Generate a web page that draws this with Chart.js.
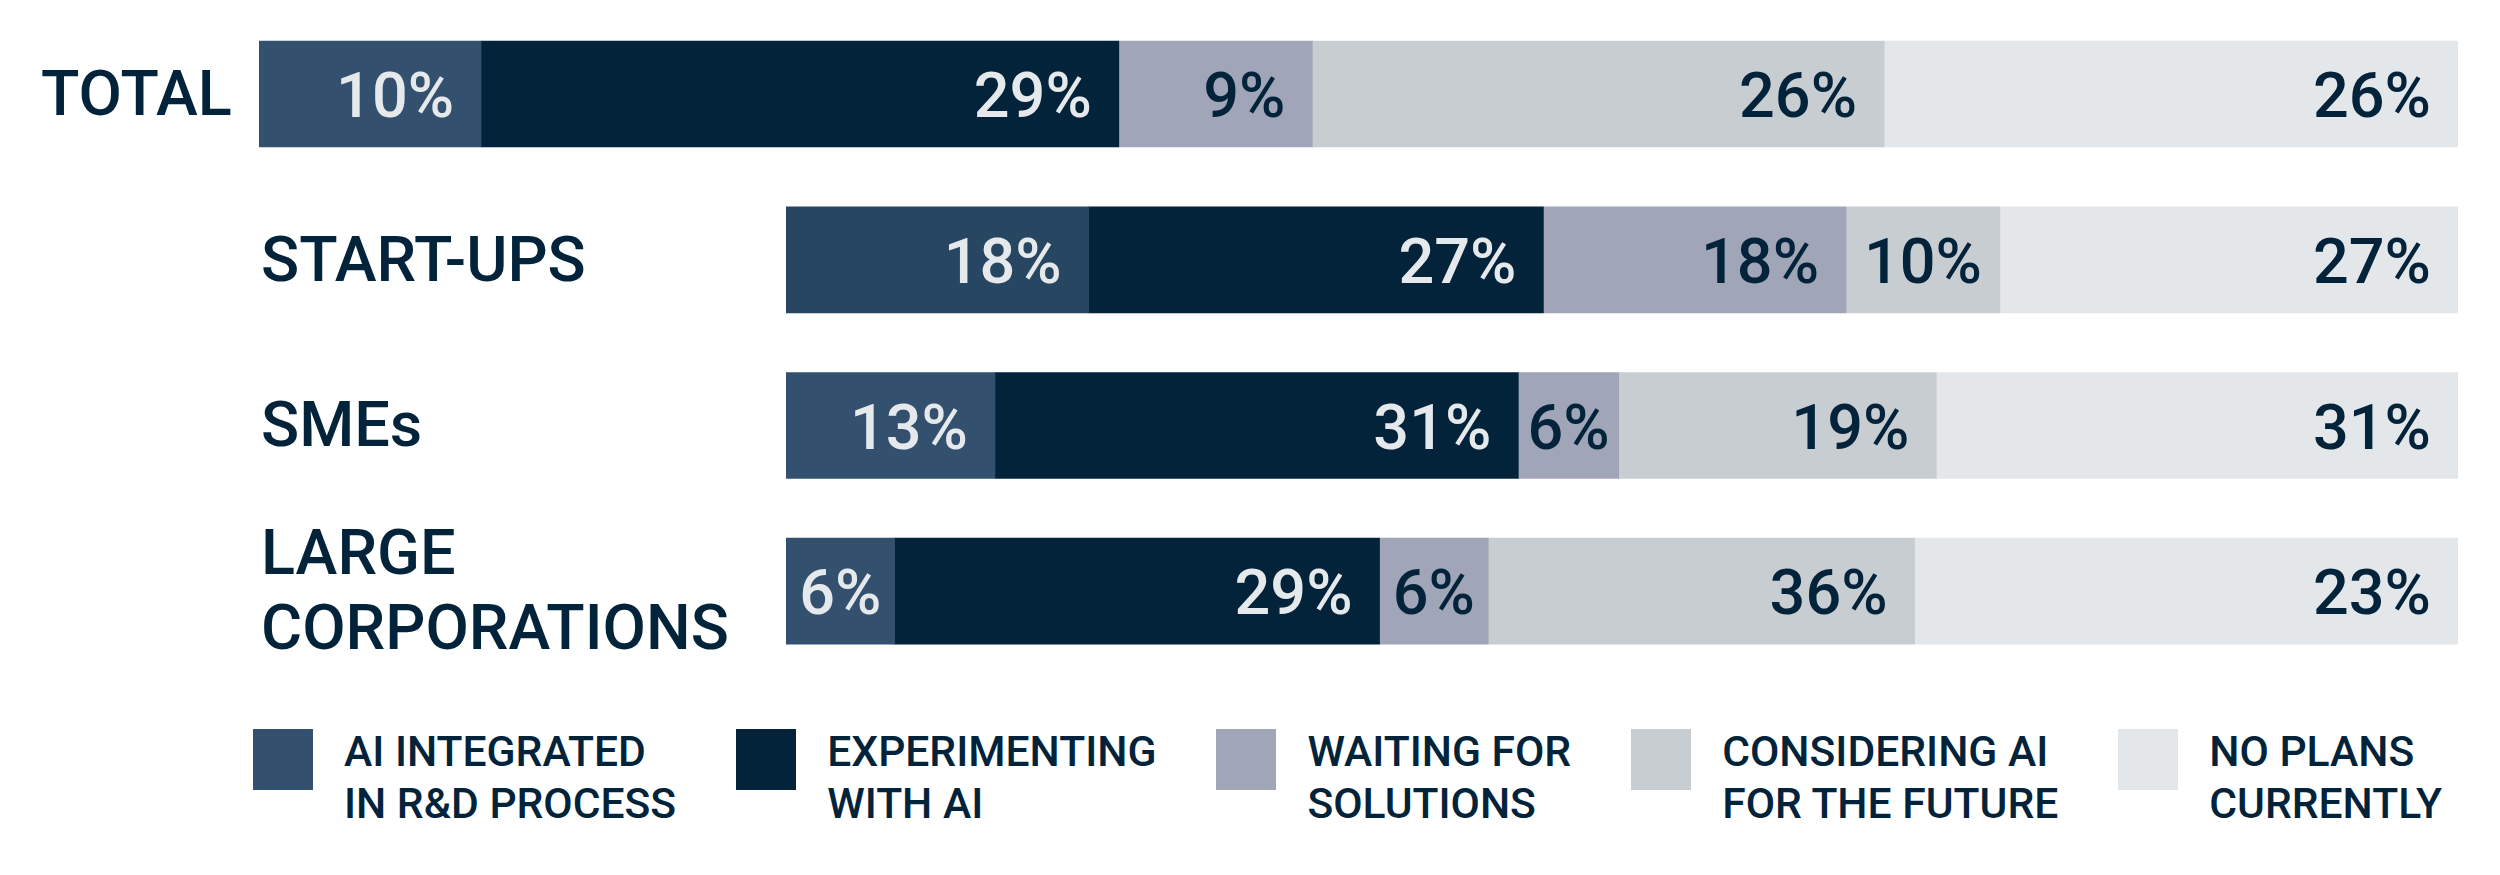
<!DOCTYPE html>
<html>
<head>
<meta charset="utf-8">
<title>AI in R&amp;D</title>
<script src="https://cdn.jsdelivr.net/npm/chart.js@4"></script>
<style>
  html, body { margin: 0; padding: 0; background: #fff; }
  body { width: 2500px; height: 875px; position: relative; overflow: hidden; font-family: Roboto, sans-serif; }
  #total-box { position: absolute; left: 0; top: 0; width: 2500px; height: 177px; }
  #groups-box { position: absolute; left: 0; top: 177px; width: 2500px; height: 497px; }
  #legend { position: absolute; left: 253px; top: 725px; display: flex; gap: 60px; }
  .item { display: flex; align-items: flex-start; }
  .swatch { width: 60px; height: 61px; margin-top: 4px; margin-right: 31px; }
  .txt { font: 500 42.6px/52px Roboto, sans-serif; color: #03233a; white-space: nowrap; }
</style>
</head>
<body>
<div id="total-box"><canvas id="totalChart"></canvas></div>
<div id="groups-box"><canvas id="groupsChart"></canvas></div>
<div id="legend"></div>
<script>
'use strict'

// categories and series
const categories = ['TOTAL', 'START-UPS', 'SMEs', ['LARGE', 'CORPORATIONS']];
const seriesNames = [
  ['AI INTEGRATED', 'IN R&D PROCESS'],
  ['EXPERIMENTING', 'WITH AI'],
  ['WAITING FOR', 'SOLUTIONS'],
  ['CONSIDERING AI', 'FOR THE FUTURE'],
  ['NO PLANS', 'CURRENTLY']
];

// segment lengths as drawn in the picture (share of each bar, %)
const aiIntegrated = [10.1, 18.1, 12.5, 6.5];
const experimenting = [29.0, 27.2, 31.3, 29.0];
const waiting = [8.8, 18.1, 6.0, 6.5];
const considering = [26.0, 9.2, 19.0, 25.5];
const noPlans = [26.1, 27.4, 31.2, 32.5];
const allSeries = [aiIntegrated, experimenting, waiting, considering, noPlans];

// the percentages printed on the segments
const aiIntegratedText = [10, 18, 13, 6];
const experimentingText = [29, 27, 31, 29];
const waitingText = [9, 18, 6, 6];
const consideringText = [26, 10, 19, 36];
const noPlansText = [26, 27, 31, 23];
const allText = [aiIntegratedText, experimentingText, waitingText, consideringText, noPlansText];

// styles
const colors = ['#33506e', '#02233a', '#a0a5b8', '#c8cdd2', '#e3e7ea'];
const labelColors = ['#e6e9ec', '#e6e9ec', '#03233a', '#03233a', '#03233a'];
const navy = '#03233a';
const bigFont = { family: 'Roboto', size: 63, weight: '500', lineHeight: 1.19 };

// draws "xx%" inside each segment, right aligned to its end
// (centred when the segment is too narrow for the usual margin)
const segmentLabels = {
  id: 'segmentLabels',
  afterDatasetsDraw(chart) {
    const ctx = chart.ctx;
    ctx.save();
    ctx.font = '500 63px Roboto';
    ctx.textAlign = 'right';
    ctx.textBaseline = 'alphabetic';
    chart.data.datasets.forEach((ds, i) => {
      const meta = chart.getDatasetMeta(i);
      meta.data.forEach((bar, j) => {
        const {x, y, base} = bar.getProps(['x', 'y', 'base'], true);
        const text = ds.printed[j] + '%';
        const w = ctx.measureText(text).width;
        const pad = Math.min(27, (Math.abs(x - base) - w) / 2);
        ctx.fillStyle = labelColors[i];
        ctx.fillText(text, x - pad, y + 23);
      });
    });
    ctx.restore();
  }
};

// labelLeft = where the category names start, barLeft = where the bars start
function makeChart(canvasId, labels, from, labelLeft, barLeft, topPad, firstColor) {
  const datasets = allSeries.map((values, i) => ({
    label: seriesNames[i].join(' '),
    data: values.slice(from, from + labels.length),
    printed: allText[i].slice(from, from + labels.length),
    backgroundColor: i === 0 ? firstColor : colors[i],
    borderWidth: 0,
    barThickness: 106
  }));

  return new Chart(document.getElementById(canvasId), {
    type: 'bar',
    data: { labels: labels, datasets: datasets },
    options: {
      indexAxis: 'y',
      responsive: true,
      maintainAspectRatio: false,
      animation: false,
      layout: { padding: { left: labelLeft, right: 42, top: topPad, bottom: 0 } },
      plugins: { legend: { display: false }, tooltip: { enabled: false } },
      scales: {
        x: { stacked: true, min: 0, max: 100, display: false },
        y: {
          stacked: true,
          grid: { display: false, drawTicks: false },
          border: { display: false },
          ticks: { color: navy, font: bigFont, crossAlign: 'far', padding: 0, labelOffset: 5 },
          afterFit(scale) {
            scale.width = barLeft - labelLeft;
            // labels stay inside their rows, no extra room above/below
            scale.paddingTop = 0;
            scale.paddingBottom = 0;
          }
        }
      }
    },
    plugins: [segmentLabels]
  });
}

makeChart('totalChart', [categories[0]], 0, 41, 259, 11, [colors[0]]);
makeChart('groupsChart', categories.slice(1), 1, 261, 786, 0, ['#264662', colors[0], colors[0]]);

// legend
const legend = document.getElementById('legend');
seriesNames.forEach((lines, i) => {
  const item = document.createElement('div');
  item.className = 'item';
  const sw = document.createElement('div');
  sw.className = 'swatch';
  sw.style.background = colors[i];
  const txt = document.createElement('div');
  txt.className = 'txt';
  txt.innerHTML = lines.map(l => l.replace('&', '&amp;')).join('<br>');
  item.appendChild(sw);
  item.appendChild(txt);
  legend.appendChild(item);
});
</script>
</body>
</html>
